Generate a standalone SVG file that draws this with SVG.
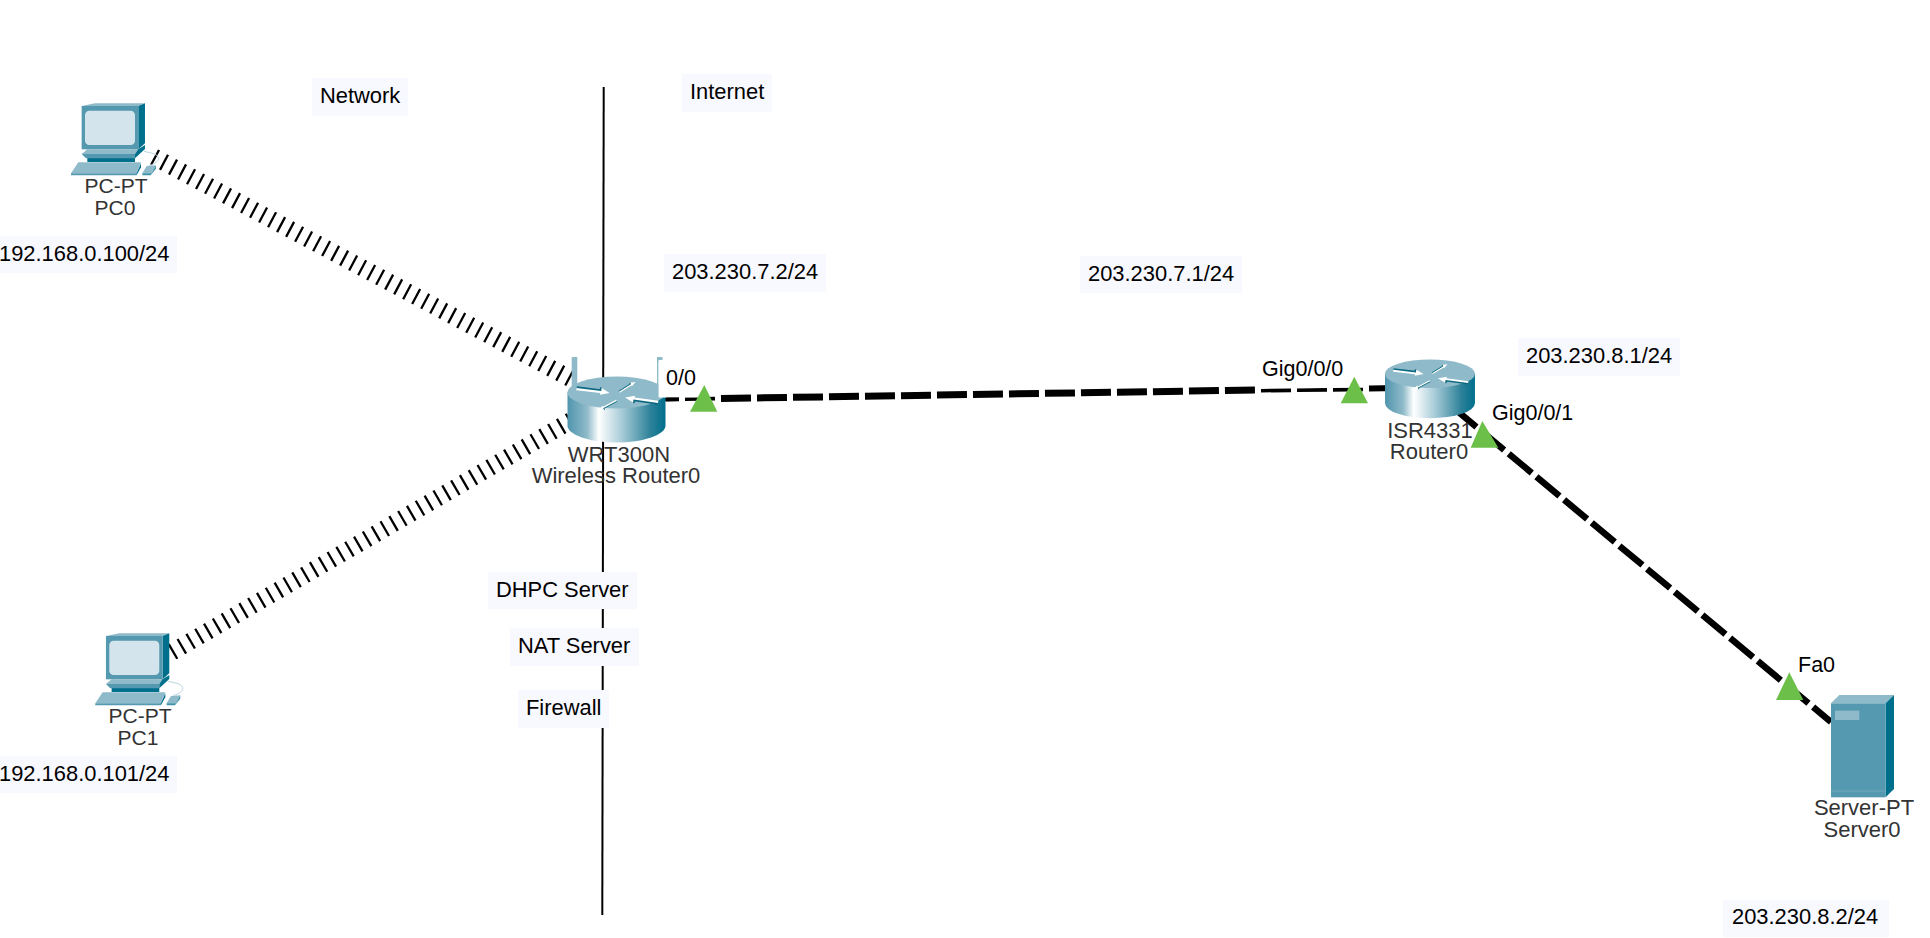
<svg xmlns="http://www.w3.org/2000/svg" xmlns:xlink="http://www.w3.org/1999/xlink" width="1930" height="938" viewBox="0 0 1930 938">
<style>
text{font-family:"Liberation Sans",Arial,sans-serif}
.note{fill:#f8f8ff}
.nt{font-size:21.9px;fill:#000}
.dev{font-size:22px;fill:#333;text-anchor:middle}
.pcl{font-size:21px}
.port{font-size:21.5px;fill:#000}
.wl{fill:none;stroke:#000;stroke-width:17;stroke-dasharray:2.3 7.9}
.eth{fill:none;stroke:#000;stroke-dasharray:30 6}
.tri{fill:#6cc04a}
.lt{fill:#8fbac9}
.md{fill:#5599b0}
.dk{fill:#006f8c}
</style>
<defs>
<linearGradient id="cyl" x1="0" x2="1" y1="0" y2="0">
<stop offset="0" stop-color="#4f95ad"/><stop offset=".2" stop-color="#8fbac9"/><stop offset=".32" stop-color="#fff"/><stop offset=".55" stop-color="#a9ccd8"/><stop offset=".85" stop-color="#2c8199"/><stop offset="1" stop-color="#006f8c"/>
</linearGradient>
<g id="arr">
<path d="M0,-5 L72,-5 L72,-13 L100,0 L72,9 L72,4 L0,4 Z" fill="#fff"/>
<path d="M0,-5 L72,-5 L72,-13" fill="none" stroke="#0b6880" stroke-width="5"/>
</g>
<g id="pc">
<polygon class="lt" points="245,78 285,70 435,70 415,78"/>
<polygon class="dk" points="415,78 435,70 435,190 415,208"/>
<rect class="md" x="245" y="78" width="170" height="130"/>
<rect x="255" y="92" width="150" height="103" rx="13" fill="#d3e4ec"/>
<polygon class="dk" points="262,232 405,232 405,246 262,246"/>
<polygon class="lt" points="245,222 262,208 415,208 405,222"/>
<polygon class="md" points="245,222 405,222 405,235 258,235"/>
<polygon class="dk" points="405,222 415,208 435,195 435,207 405,235"/>
<polygon class="lt" points="213,280 235,247 423,247 410,280"/>
<polygon class="md" points="213,280 410,280 410,286 213,286"/>
<polygon class="dk" points="410,280 423,250 423,262 410,286"/>
<path d="M447,256 C475,250 482,235 470,226 C460,218 445,218 432,214" fill="none" stroke="#b9d4de" stroke-width="3"/>
<polygon class="lt" points="427,280 440,258 468,256 455,280"/>
<polygon class="dk" points="427,280 455,280 468,256 468,266 452,286 427,286" opacity=".75"/>
</g>
<g id="router">
<path d="M0,16 V49 A49,17 0 0 0 98,49 V16 Z" fill="url(#cyl)"/>
<ellipse class="lt" cx="49" cy="16" rx="49" ry="16"/>
<g transform="scale(.3333)">
<use xlink:href="#arr" href="#arr" transform="translate(27,37) rotate(7)"/>
<use xlink:href="#arr" href="#arr" transform="translate(155,47) rotate(-32) scale(.58)"/>
<use xlink:href="#arr" href="#arr" transform="translate(272,77) rotate(188)"/>
<use xlink:href="#arr" href="#arr" transform="translate(147,72) rotate(152) scale(.62)"/>
</g>
</g>
</defs>
<rect width="1930" height="938" fill="#fff"/>
<g id="connectors">
<path id="divider" d="M603.7,87 L602.3,915" fill="none" stroke="#000" stroke-width="2"/>
<path id="link-pc0" class="wl" d="M154,157 L575,381"/>
<path id="link-pc1" class="wl" d="M172,652 L572,420"/>
<path id="link-wan-0" class="eth" stroke-width="3.8" d="M649,399.6 L715,398.6"/>
<path id="link-wan-a" class="eth" stroke-width="7" d="M721,398.5 L1256,390"/>
<path id="link-wan-b" class="eth" stroke-width="3.6" d="M1261,390.7 L1363,389.5"/>
<path id="link-wan-c" class="eth" stroke-width="6" d="M1369,388.5 L1399,388"/>
<path id="link-srv" class="eth" stroke-width="6.5" d="M1453.4,407.7 L1831,722"/>
</g>
<g id="notes">
<g id="note-network"><rect class="note" x="312" y="78" width="96" height="38"/><text class="nt" x="320" y="103">Network</text></g>
<g id="note-internet"><rect class="note" x="682" y="74" width="90" height="38"/><text class="nt" x="690" y="99">Internet</text></g>
<g id="note-pc0"><rect class="note" x="0" y="236" width="177" height="37"/><text class="nt" x="-1" y="261">192.168.0.100/24</text></g>
<g id="note-pc1"><rect class="note" x="0" y="756" width="177" height="37"/><text class="nt" x="-1" y="781">192.168.0.101/24</text></g>
<g id="note-wan-a"><rect class="note" x="664" y="254" width="162" height="38"/><text class="nt" x="672" y="279">203.230.7.2/24</text></g>
<g id="note-wan-b"><rect class="note" x="1080" y="256" width="162" height="37"/><text class="nt" x="1088" y="281">203.230.7.1/24</text></g>
<g id="note-lan"><rect class="note" x="1518" y="338" width="162" height="38"/><text class="nt" x="1526" y="363">203.230.8.1/24</text></g>
<g id="note-srv"><rect class="note" x="1723" y="900" width="166" height="37"/><text class="nt" x="1732" y="924">203.230.8.2/24</text></g>
<g id="note-dhcp"><rect class="note" x="488" y="572" width="149" height="37"/><text class="nt" x="496" y="597">DHPC Server</text></g>
<g id="note-nat"><rect class="note" x="510" y="628" width="129" height="38"/><text class="nt" x="518" y="653">NAT Server</text></g>
<g id="note-fw"><rect class="note" x="518" y="690" width="91" height="38"/><text class="nt" x="526" y="715">Firewall</text></g>
</g>
<g id="PC0">
<use xlink:href="#pc" href="#pc" transform="translate(0,80) scale(.3333)"/>
<text class="dev pcl" x="116" y="193">PC-PT</text><text class="dev pcl" x="115" y="215">PC0</text>
</g>
<g id="PC1">
<use xlink:href="#pc" href="#pc" transform="translate(24.3,610) scale(.3333)"/>
<text class="dev pcl" x="140" y="723">PC-PT</text><text class="dev pcl" x="138" y="745">PC1</text>
</g>
<g id="WirelessRouter0">
<rect x="571.7" y="357" width="5.6" height="34" fill="#8fbac9"/>
<rect x="657" y="357" width="1.6" height="28" fill="#8fbac9"/>
<rect x="657" y="357" width="5.5" height="3" fill="#8fbac9"/>
<use xlink:href="#router" href="#router" transform="translate(567.5,376.5)"/>
<rect x="658.6" y="362" width="40" height="35.5" fill="#fff"/>
<path d="M666,399.5 L679,399.3" stroke="#000" stroke-width="3.8" fill="none"/>
<text class="dev" x="619" y="462">WRT300N</text><text class="dev" x="616" y="483">Wireless Router0</text>
</g>
<g id="Router0">
<use xlink:href="#router" href="#router" transform="translate(1385,359.5) scale(.918,.89)"/>
<text class="dev" x="1430" y="438">ISR4331</text><text class="dev" x="1429" y="459">Router0</text>
</g>
<g id="Server0">
<g transform="translate(1740,640) scale(.3333)">
<polygon class="lt" points="273,190 298,165 462,165 437,190"/>
<polygon class="dk" points="437,190 462,165 462,447 437,472"/>
<rect class="md" x="273" y="190" width="164" height="282"/>
<rect x="285" y="212" width="73" height="28" fill="#8fbac9"/>
<rect x="273" y="452" width="164" height="2" fill="#7fb0c2"/>
</g>
<text class="dev" x="1864" y="815">Server-PT</text><text class="dev" x="1862" y="837">Server0</text>
</g>
<g id="ports">
<polygon class="tri" points="690,411.7 717.3,411.7 704.3,385"/>
<polygon class="tri" points="1340.7,403.3 1368,403.3 1354.3,376.7"/>
<polygon class="tri" points="1470.7,447.7 1498.3,447.7 1482.3,421"/>
<polygon class="tri" points="1776,700 1803.3,700 1789.3,672.3"/>
<text class="port" x="666" y="385">0/0</text>
<text class="port" x="1262" y="376">Gig0/0/0</text>
<text class="port" x="1492" y="420">Gig0/0/1</text>
<text class="port" x="1798" y="672">Fa0</text>
</g>
</svg>
